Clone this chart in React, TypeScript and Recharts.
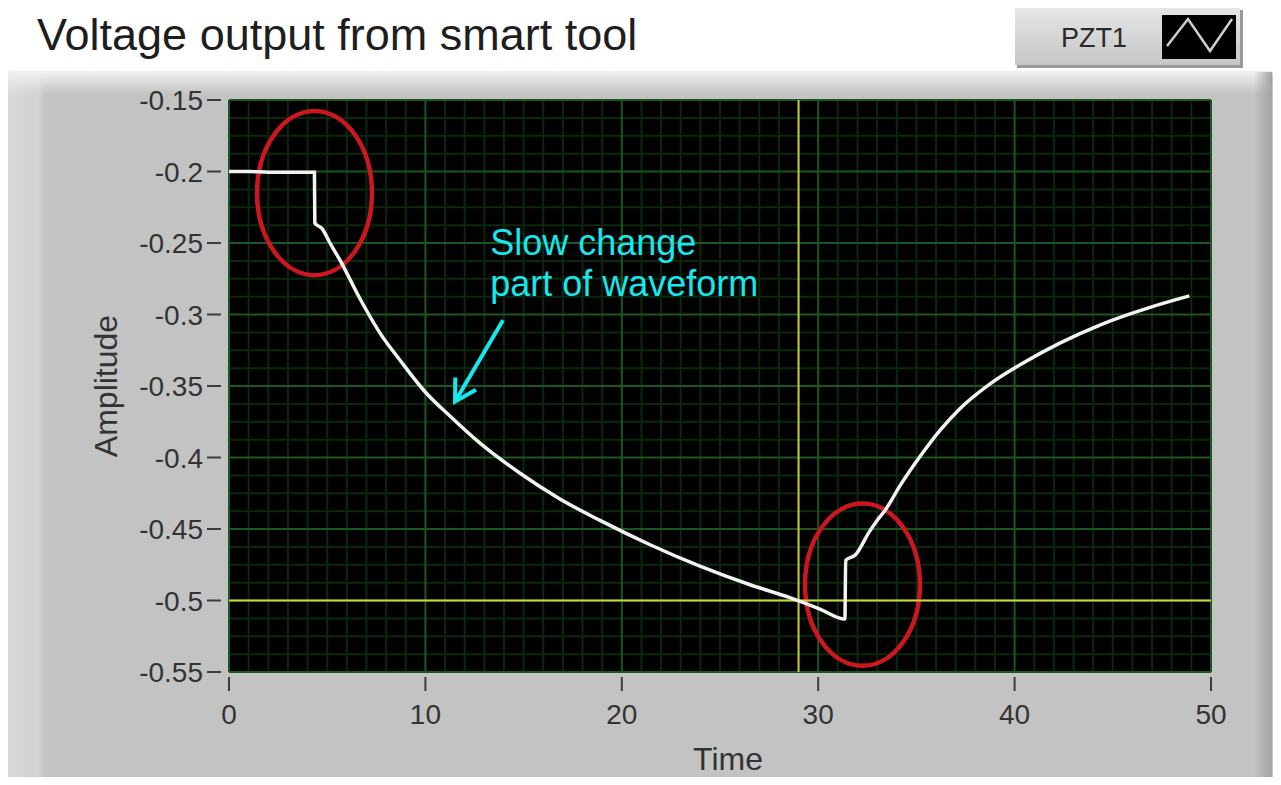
import React from 'react';
import {
  LineChart,
  Line,
  XAxis,
  YAxis,
  CartesianGrid,
  ReferenceLine,
  ReferenceArea,
  ReferenceDot,
} from 'recharts';

// ---------- data ----------
const time = [
  0, 1, 2, 3, 4, 4.35, 4.37, 4.74, 5.14, 5.65, 6.67, 7.69, 8.71, 9.98, 11.25,
  12.78, 14.82, 16.85, 18.89, 21.44, 23.98, 26.53, 28.56, 30.09, 31.36,
  31.4, 31.9, 32.6, 33.0, 33.4, 34.2, 35.2, 36.2, 37.2, 38.7, 40.3, 42.3,
  44.4, 46.9, 48.9,
];
const amplitude = [
  -0.2, -0.2, -0.2005, -0.2005, -0.2005, -0.2005, -0.236, -0.24, -0.25,
  -0.262, -0.289, -0.313, -0.332, -0.354, -0.371, -0.39, -0.411, -0.429,
  -0.444, -0.461, -0.476, -0.489, -0.498, -0.506, -0.513,
  -0.472, -0.468, -0.452, -0.444, -0.437, -0.419, -0.399, -0.381, -0.366,
  -0.349, -0.335, -0.32, -0.307, -0.295, -0.287,
];
const xTicks = [0, 10, 20, 30, 40, 50];
const yTicks = [-0.55, -0.5, -0.45, -0.4, -0.35, -0.3, -0.25, -0.2, -0.15];
const xDomain = [0, 50];
const yDomain = [-0.55, -0.15];
const seriesName = 'PZT1';
const chartTitle = 'Voltage output from smart tool';
const xLabel = 'Time';
const yLabel = 'Amplitude';
const cursorTime = 29;
const cursorAmplitude = -0.5;
const annotationLines = ['Slow change', 'part of waveform'];
const annotationAnchor = { x: 13.3, y: -0.2585 };
const arrowFrom = { x: 13.95, y: -0.304 };
const arrowTo = { x: 11.51, y: -0.3608 };
const ellipses = [
  { x1: 1.43, x2: 7.28, y1: -0.1577, y2: -0.2725 },
  { x1: 29.33, x2: 35.18, y1: -0.4322, y2: -0.5457 },
];

const data = time.map((t, i) => ({ t, v: amplitude[i] }));

// grid positions (in data units)
const minorX: number[] = [];
for (let i = 0; i <= 50; i++) if (i % 10 !== 0) minorX.push(i);
const minorY: number[] = [];
for (let i = 0; i <= 32; i++) if (i % 4 !== 0) minorY.push(-0.55 + i * 0.0125);

const FONT = "'Liberation Sans', Arial, sans-serif";

const mkV = (vals: number[]) => (args: any) => {
  const { xAxis, offset } = args;
  return vals.map((v) =>
    xAxis && typeof xAxis.scale === 'function'
      ? xAxis.scale(v)
      : offset.left + (offset.width * (v - xDomain[0])) / (xDomain[1] - xDomain[0])
  );
};
const mkH = (vals: number[]) => (args: any) => {
  const { yAxis, offset } = args;
  return vals.map((v) =>
    yAxis && typeof yAxis.scale === 'function'
      ? yAxis.scale(v)
      : offset.top + (offset.height * (yDomain[1] - v)) / (yDomain[1] - yDomain[0])
  );
};

const YTick = (props: any) => {
  const { x, y, payload } = props;
  return (
    <g>
      <line x1={x - 22} x2={x - 8} y1={y} y2={y} stroke="#3c3c3c" strokeWidth={2} />
      <text
        x={x - 26}
        y={y}
        dy="0.36em"
        textAnchor="end"
        fontSize={28}
        fontFamily={FONT}
        fill="#333"
      >
        {String(payload.value)}
      </text>
    </g>
  );
};

const XTick = (props: any) => {
  const { x, y, payload } = props;
  return (
    <g>
      <line x1={x} x2={x} y1={y + 5} y2={y + 19} stroke="#3c3c3c" strokeWidth={2} />
      <text
        x={x}
        y={y + 52}
        textAnchor="middle"
        fontSize={28}
        fontFamily={FONT}
        fill="#333"
      >
        {String(payload.value)}
      </text>
    </g>
  );
};

const EllipseShape = (p: any) => (
  <ellipse
    cx={p.x + p.width / 2}
    cy={p.y + p.height / 2}
    rx={Math.abs(p.width) / 2}
    ry={Math.abs(p.height) / 2}
    fill="none"
    stroke="#cc171f"
    strokeWidth={4.5}
  />
);

const ArrowShape = (p: any) => {
  const { x1, y1, x2, y2 } = p;
  const ang = Math.atan2(y2 - y1, x2 - x1);
  const len = 24;
  const spread = Math.PI / 6;
  const ax = x2 - len * Math.cos(ang - spread);
  const ay = y2 - len * Math.sin(ang - spread);
  const bx = x2 - len * Math.cos(ang + spread);
  const by = y2 - len * Math.sin(ang + spread);
  return (
    <g stroke="#16e8ee" strokeWidth={4} fill="none" strokeLinecap="butt">
      <line x1={x1} y1={y1} x2={x2} y2={y2} />
      <polyline points={`${ax},${ay} ${x2},${y2} ${bx},${by}`} />
    </g>
  );
};

const TextShape = (p: any) => (
  <text x={p.cx} y={p.cy} fontSize={36} fontFamily={FONT} fill="#16e8ee">
    {annotationLines.map((s, i) => (
      <tspan key={i} x={p.cx} dy={i === 0 ? 0 : 41}>
        {s}
      </tspan>
    ))}
  </text>
);

const XLabel = (props: any) => {
  const vb = props.viewBox || { x: 229, y: 672, width: 982, height: 60 };
  return (
    <text
      x={vb.x + vb.width / 2 + 8}
      y={vb.y + 98}
      textAnchor="middle"
      fontSize={32}
      fontFamily={FONT}
      fill="#333"
    >
      {xLabel}
    </text>
  );
};

const YLabel = (props: any) => {
  const vb = props.viewBox || { x: 129, y: 100, width: 100, height: 572 };
  const cx = vb.x - 24;
  const cy = vb.y + vb.height / 2;
  return (
    <text
      x={cx}
      y={cy}
      transform={`rotate(-90 ${cx} ${cy})`}
      textAnchor="middle"
      dy="0.36em"
      fontSize={32}
      fontFamily={FONT}
      fill="#333"
    >
      {yLabel}
    </text>
  );
};

export default function App() {
  return (
    <div style={{ position: 'relative', width: 1281, height: 785, margin: -8, background: '#fff', overflow: 'hidden' }}>
      {/* panel frame */}
      <div
        style={{
          position: 'absolute',
          left: 8,
          top: 72,
          width: 1264,
          height: 711,
          background: '#c3c3c3',
          boxShadow: '1px 1px 3px rgba(0,0,0,0.35)',
        }}
      />
      <div
        style={{
          position: 'absolute',
          left: 8,
          top: 72,
          width: 38,
          height: 711,
          background: 'linear-gradient(to right, #d9d9d9, #d2d2d2 80%, #c3c3c3)',
        }}
      />
      <div
        style={{
          position: 'absolute',
          left: 8,
          top: 72,
          width: 1264,
          height: 22,
          background: 'linear-gradient(to bottom, #f0f0f0, rgba(195,195,195,0))',
        }}
      />
      <div
        style={{
          position: 'absolute',
          left: 1254,
          top: 72,
          width: 18,
          height: 711,
          background: 'linear-gradient(to right, rgba(195,195,195,0), #a3a3a3)',
        }}
      />
      <div
        style={{
          position: 'absolute',
          left: 8,
          top: 776,
          width: 1264,
          height: 7,
          background: 'linear-gradient(to bottom, rgba(195,195,195,0), #a8a8a8)',
        }}
      />

      <div style={{ position: 'absolute', left: 0, top: 0 }}>
        <LineChart
          width={1281}
          height={785}
          data={data}
          margin={{ top: 100, right: 70, bottom: 53, left: 129 }}
        >
          <CartesianGrid
            fill="#000"
            fillOpacity={1}
            stroke="#0a280c"
            strokeWidth={2}
            verticalCoordinatesGenerator={mkV(minorX)}
            horizontalCoordinatesGenerator={mkH(minorY)}
          />
          <CartesianGrid
            stroke="#1b581f"
            strokeWidth={2}
            verticalCoordinatesGenerator={mkV(xTicks)}
            horizontalCoordinatesGenerator={mkH(yTicks)}
          />
          <XAxis
            type="number"
            dataKey="t"
            domain={xDomain}
            ticks={xTicks}
            interval={0}
            allowDataOverflow
            axisLine={false}
            tickLine={false}
            tickSize={0}
            tickMargin={0}
            height={60}
            tick={<XTick />}
            label={<XLabel />}
          />
          <YAxis
            type="number"
            domain={yDomain}
            ticks={yTicks}
            interval={0}
            allowDataOverflow
            axisLine={false}
            tickLine={false}
            tickSize={0}
            tickMargin={0}
            width={100}
            tick={<YTick />}
            label={<YLabel />}
          />
          <ReferenceLine x={cursorTime} stroke="#c9c83a" strokeWidth={2} />
          <ReferenceLine y={cursorAmplitude} stroke="#d2d23c" strokeWidth={2} />
          <Line
            name={seriesName}
            type="monotoneX"
            dataKey="v"
            stroke="#f2f2f2"
            strokeWidth={3.5}
            dot={false}
            activeDot={false}
            isAnimationActive={false}
          />
          {ellipses.map((e, i) => (
            <ReferenceArea
              key={i}
              x1={e.x1}
              x2={e.x2}
              y1={e.y1}
              y2={e.y2}
              ifOverflow="visible"
              shape={EllipseShape}
            />
          ))}
          <ReferenceLine
            segment={[arrowFrom, arrowTo]}
            ifOverflow="visible"
            shape={ArrowShape}
          />
          <ReferenceDot
            x={annotationAnchor.x}
            y={annotationAnchor.y}
            r={0}
            ifOverflow="visible"
            shape={TextShape}
          />
        </LineChart>
      </div>

      {/* title and legend */}
      <svg
        width={1281}
        height={72}
        style={{ position: 'absolute', left: 0, top: 0, pointerEvents: 'none' }}
      >
        <text x={37} y={50} fontSize={45} fontFamily={FONT} fill="#1e1e1e">
          {chartTitle}
        </text>
        <defs>
          <linearGradient id="legBg" x1="0" y1="0" x2="0" y2="1">
            <stop offset="0" stopColor="#e6e6e6" />
            <stop offset="1" stopColor="#c6c6c6" />
          </linearGradient>
        </defs>
        <rect x={1017} y={10} width={226} height={58} fill="#9a9a9a" />
        <rect x={1015} y={8} width={225} height={57} fill="url(#legBg)" />
        <text x={1094} y={47} textAnchor="middle" fontSize={27} fontFamily={FONT} fill="#2a2a2a">
          {seriesName}
        </text>
        <rect x={1162} y={15} width={74} height={44} fill="#000" />
        <polyline
          points="1167,46 1188,19 1210,51 1232,19"
          fill="none"
          stroke="#cfcfcf"
          strokeWidth={2.5}
        />
      </svg>
    </div>
  );
}
